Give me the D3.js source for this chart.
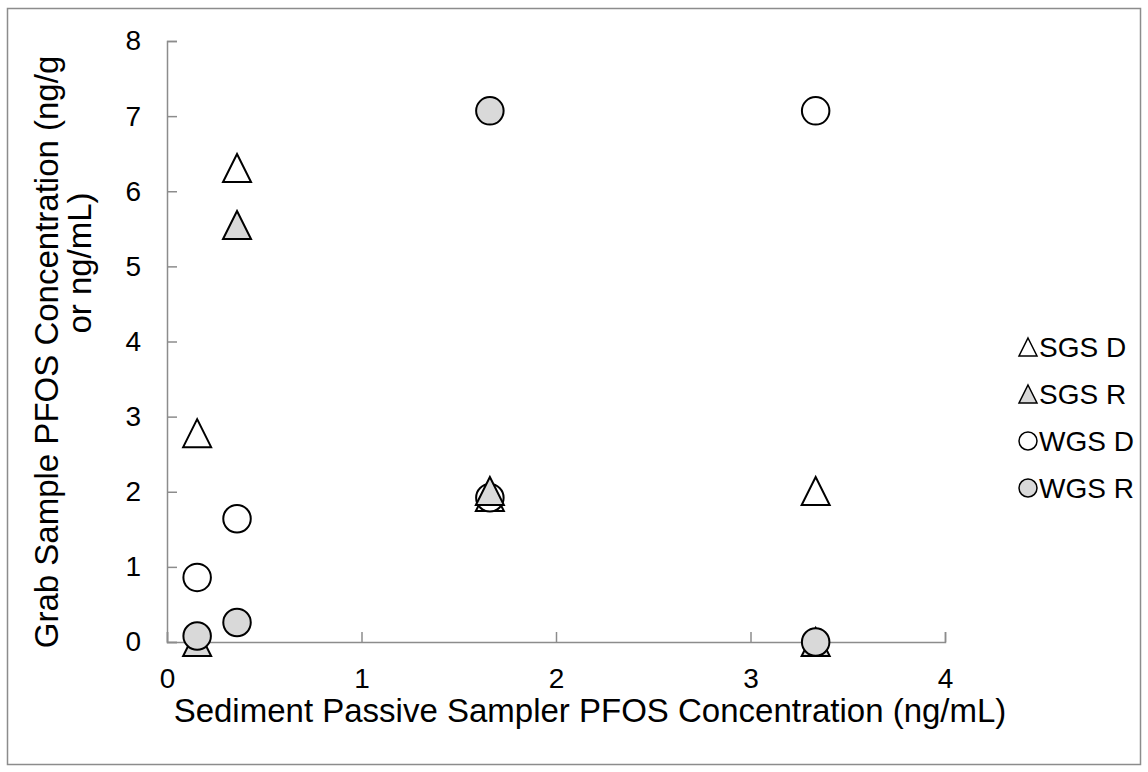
<!DOCTYPE html>
<html>
<head>
<meta charset="utf-8">
<script src="https://cdn.jsdelivr.net/npm/d3@7"></script>
<style>
  html, body { margin: 0; padding: 0; background: #fff; }
  svg { display: block; font-family: "Liberation Sans", Arial, sans-serif; }
</style>
</head>
<body>
<svg id="chart" width="1148" height="772"></svg>
<script>
// Sampler concentration (x) per site
const samplerX = [0.155, 0.36, 1.66, 3.335];

// Grab sample concentrations per series, one value per site
const sgsD = [2.78, 6.31, 1.93, 2.01];
const sgsR = [0.0, 5.55, 2.01, 0.0];
const wgsD = [0.86, 1.64, 1.92, 7.07];
const wgsR = [0.08, 0.26, 7.07, 0.0];

const seriesNames = ["SGS D", "SGS R", "WGS D", "WGS R"];
const seriesShapes = ["triangle", "triangle", "circle", "circle"];
const seriesFills = ["#ffffff", "#d9d9d9", "#ffffff", "#d9d9d9"];
const seriesValues = [sgsD, sgsR, wgsD, wgsR];
// painting order of the series in the plot area
const drawOrder = [0, 2, 1, 3];

const xTicks = [0, 1, 2, 3, 4];
const yTicks = [0, 1, 2, 3, 4, 5, 6, 7, 8];

const xTitle = "Sediment Passive Sampler PFOS Concentration (ng/mL)";
const yTitleLines = ["Grab Sample PFOS Concentration (ng/g", "or ng/mL)"];

const svg = d3.select("#chart");
const axisColor = "#8c8c8c";
const tickFont = "28px";
const titleFont = "33px";

// chart frame
svg.append("rect")
  .attr("x", 7.5).attr("y", 8.5)
  .attr("width", 1133).attr("height", 756)
  .attr("fill", "#fff")
  .attr("stroke", "#8c8c8c").attr("stroke-width", 1.5);

const plot = { left: 167, right: 945, top: 41, bottom: 642 };

const x = d3.scaleLinear().domain([0, 4]).range([plot.left, plot.right]);
const y = d3.scaleLinear().domain([0, 8]).range([plot.bottom, plot.top]);

// axes with inside tick marks
const xAxis = d3.axisBottom(x).tickValues(xTicks).tickSize(-10).tickFormat(d3.format("d")).tickPadding(26);
const yAxis = d3.axisLeft(y).tickValues(yTicks).tickSize(-10).tickFormat(d3.format("d")).tickPadding(26);

const gx = svg.append("g").attr("transform", `translate(0,${plot.bottom})`).call(xAxis);
const gy = svg.append("g").attr("transform", `translate(${plot.left},0)`).call(yAxis);

[gx, gy].forEach(g => {
  g.select(".domain").attr("stroke", axisColor).attr("stroke-width", 1.5);
  g.selectAll(".tick line").attr("stroke", axisColor).attr("stroke-width", 1.5);
  g.selectAll(".tick text")
    .attr("fill", "#000")
    .style("font-size", tickFont)
    .style("font-family", '"Liberation Sans", Arial, sans-serif');
});

// axis titles
svg.append("text")
  .attr("x", 590).attr("y", 710)
  .attr("text-anchor", "middle").attr("dy", "0.35em")
  .style("font-size", titleFont)
  .text(xTitle);

const yTitlePos = [[46, 352], [79, 263]];
yTitleLines.forEach((line, i) => {
  svg.append("text")
    .attr("transform", `translate(${yTitlePos[i][0]},${yTitlePos[i][1]}) rotate(-90)`)
    .attr("text-anchor", "middle").attr("dy", "0.35em")
    .style("font-size", titleFont)
    .text(line);
});

// marker path generators (size = bbox width/height in px)
function markerPath(shape, size) {
  if (shape === "triangle") {
    const h = size, w = size;
    return `M0,${-h / 2}L${w / 2},${h / 2}L${-w / 2},${h / 2}Z`;
  }
  const r = size / 2;
  return `M${r},0A${r},${r} 0 1,1 ${-r},0A${r},${r} 0 1,1 ${r},0Z`;
}

// data points
drawOrder.forEach(si => {
  svg.append("g")
    .selectAll("path")
    .data(seriesValues[si].map((v, i) => ({ x: samplerX[i], y: v })))
    .join("path")
    .attr("transform", d => `translate(${x(d.x)},${y(d.y)})`)
    .attr("d", markerPath(seriesShapes[si], seriesShapes[si] === "triangle" ? 28 : 27.5))
    .attr("fill", seriesFills[si])
    .attr("stroke", "#000")
    .attr("stroke-width", 2)
    .attr("stroke-linejoin", "miter");
});

// legend
const legend = svg.append("g").attr("transform", "translate(1028,347)");
seriesNames.forEach((name, i) => {
  const row = legend.append("g").attr("transform", `translate(0,${i * 47})`);
  row.append("path")
    .attr("d", markerPath(seriesShapes[i], 18))
    .attr("fill", seriesFills[i])
    .attr("stroke", "#000")
    .attr("stroke-width", 1.5);
  row.append("text")
    .attr("x", 11).attr("dy", "0.35em")
    .style("font-size", tickFont)
    .text(name);
});
</script>
</body>
</html>
